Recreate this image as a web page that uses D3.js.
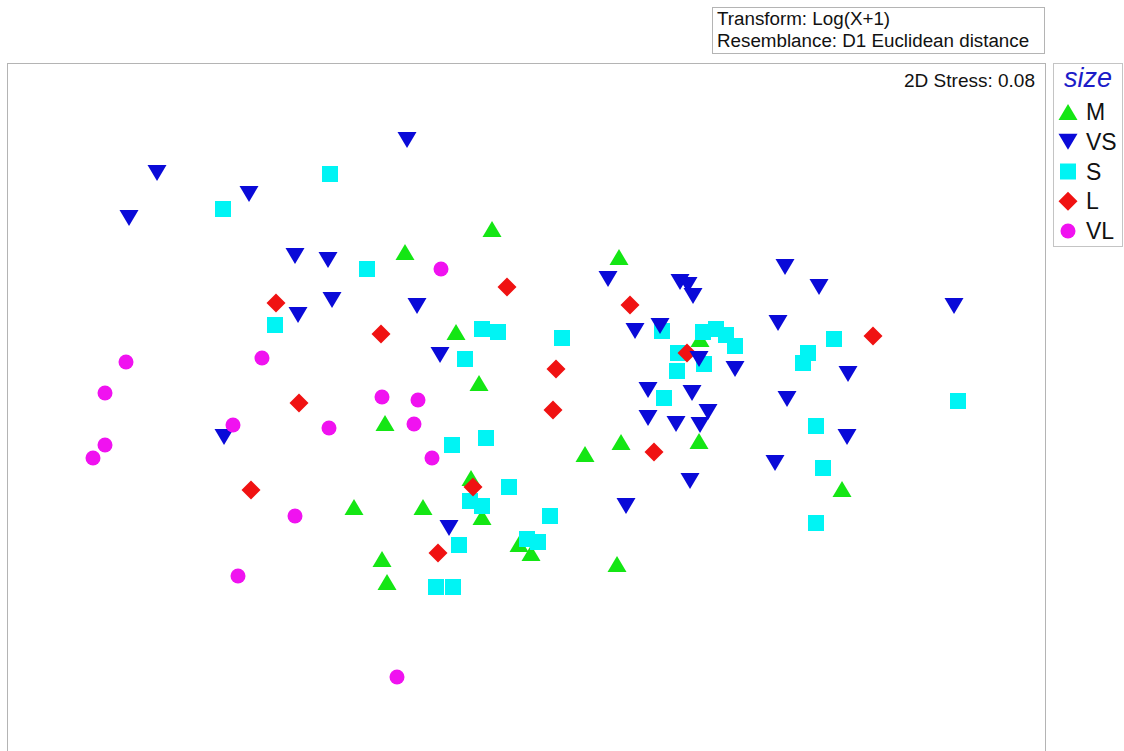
<!DOCTYPE html>
<html>
<head>
<meta charset="utf-8">
<script src="https://cdn.jsdelivr.net/npm/d3@7"></script>
<style>
  html, body { margin: 0; padding: 0; background: #fff; }
  svg { display: block; font-family: "Liberation Sans", Arial, sans-serif; }
</style>
</head>
<body>
<svg id="chart" width="1124" height="751"></svg>
<script>
// nMDS ordination coordinates (MDS1, MDS2) per sample, grouped by size class
const groups = ["M", "VS", "S", "L", "VL"];
const stressLabel = "2D Stress: 0.08";
const infoLines = ["Transform: Log(X+1)", "Resemblance: D1 Euclidean distance"];
const legendTitle = "size";

const mdsM = [
  [-0.17, 0.89], [-0.605, 0.775], [0.465, 0.75], [-0.35, 0.375], [0.87, 0.34],
  [0.475, -0.175], [0.865, -0.17], [-0.235, 0.12], [-0.705, -0.08], [-0.275, -0.355],
  [-0.22, -0.55], [-0.86, -0.50], [-0.515, -0.50], [-0.035, -0.685], [0.025, -0.73],
  [-0.72, -0.76], [-0.695, -0.875], [0.295, -0.235], [1.58, -0.41], [0.455, -0.785]
];
const mdsVS = [
  [-0.595, 1.335], [-1.845, 1.17], [-1.385, 1.065], [-1.985, 0.945], [-1.155, 0.755],
  [-0.99, 0.735], [-0.97, 0.535], [-1.14, 0.46], [-0.545, 0.505], [-0.43, 0.26],
  [-1.51, -0.15], [0.41, 0.64], [0.77, 0.625], [0.81, 0.61], [0.835, 0.555],
  [1.295, 0.70], [1.465, 0.60], [2.14, 0.505], [0.545, 0.38], [0.67, 0.405],
  [1.26, 0.42], [0.865, 0.24], [1.045, 0.19], [1.61, 0.165], [0.61, 0.085],
  [0.83, 0.07], [1.305, 0.04], [0.61, -0.055], [0.75, -0.085], [0.91, -0.025],
  [0.87, -0.09], [1.605, -0.15], [1.245, -0.28], [0.82, -0.37], [0.50, -0.495],
  [-0.385, -0.605]
];
const mdsS = [
  [-0.98, 1.165], [-1.515, 0.99], [-1.255, 0.41], [-0.795, 0.69], [-0.22, 0.39],
  [-0.14, 0.375], [0.18, 0.345], [-0.305, 0.24], [0.68, 0.38], [0.885, 0.375],
  [0.95, 0.39], [1.00, 0.36], [1.045, 0.305], [0.76, 0.27], [0.89, 0.215],
  [0.755, 0.18], [0.69, 0.045], [1.54, 0.34], [1.41, 0.27], [1.385, 0.22],
  [1.45, -0.095], [1.485, -0.305], [1.45, -0.58], [2.16, 0.03], [-0.37, -0.19],
  [-0.20, -0.155], [-0.085, -0.40], [-0.28, -0.47], [-0.22, -0.495], [0.12, -0.545],
  [-0.335, -0.69], [0.005, -0.66], [0.06, -0.675], [-0.45, -0.90], [-0.365, -0.90]
];
const mdsL = [
  [-1.25, 0.52], [-0.095, 0.60], [0.52, 0.51], [-0.725, 0.365], [0.15, 0.19],
  [0.805, 0.27], [1.735, 0.355], [0.64, -0.225], [-1.135, 0.02], [-1.375, -0.415],
  [0.135, -0.015], [-0.265, -0.40], [-0.44, -0.73]
];
const mdsVL = [
  [-0.425, 0.69], [-2.00, 0.225], [-1.32, 0.245], [-2.105, 0.07], [-1.465, -0.09],
  [-0.985, -0.105], [-2.105, -0.19], [-2.165, -0.255], [-1.155, -0.545], [-1.44, -0.845],
  [-0.72, 0.05], [-0.54, 0.035], [-0.56, -0.085], [-0.47, -0.255], [-0.645, -1.35]
];

const groupData = { M: mdsM, VS: mdsVS, S: mdsS, L: mdsL, VL: mdsVL };
const groupColor = { M: "#14e614", VS: "#0a0ad8", S: "#00f4f4", L: "#f01212", VL: "#f012f0" };
const groupShape = { M: "up", VS: "down", S: "square", L: "diamond", VL: "circle" };
const drawOrder = ["M", "S", "L", "VS", "VL"];

// marker outlines centred on the bounding box
function shapePath(kind) {
  switch (kind) {
    case "up":      return "M0,-8L9.5,8L-9.5,8Z";
    case "down":    return "M0,8L9.5,-8L-9.5,-8Z";
    case "square":  return "M-8,-8H8V8H-8Z";
    case "diamond": return "M0,-9.5L9.5,0L0,9.5L-9.5,0Z";
    case "circle":  return "M7.5,0A7.5,7.5 0 1,1 -7.5,0A7.5,7.5 0 1,1 7.5,0Z";
  }
}

const svg = d3.select("#chart");
const plot = { left: 7, top: 63, right: 1045, bottom: 750 };

const x = d3.scaleLinear().domain([-2.595, 2.595]).range([plot.left, plot.right]);
const y = d3.scaleLinear().domain([1.72, -1.715]).range([plot.top, plot.bottom]);

// info box above the plot
svg.append("rect")
  .attr("x", 712.5).attr("y", 7.5).attr("width", 332).attr("height", 46)
  .attr("fill", "#fff").attr("stroke", "#b4b4b4").attr("stroke-width", 1);
svg.selectAll("text.info").data(infoLines).join("text")
  .attr("class", "info")
  .attr("x", 717).attr("y", (d, i) => 25 + i * 22)
  .attr("font-size", 18.8).attr("fill", "#111")
  .text(d => d);

// ordination frame
svg.append("rect")
  .attr("x", plot.left + 0.5).attr("y", plot.top + 0.5)
  .attr("width", plot.right - plot.left).attr("height", plot.bottom - plot.top + 5)
  .attr("fill", "#fff").attr("stroke", "#b4b4b4").attr("stroke-width", 1);

svg.append("text")
  .attr("x", 1035).attr("y", 87)
  .attr("text-anchor", "end").attr("font-size", 19).attr("fill", "#111")
  .text(stressLabel);

// sample points
const marks = svg.append("g");
drawOrder.forEach(g => {
  marks.selectAll(null).data(groupData[g]).join("path")
    .attr("d", shapePath(groupShape[g]))
    .attr("transform", d => `translate(${x(d[0])},${y(d[1])})`)
    .attr("fill", groupColor[g]);
});

// legend
const legend = svg.append("g");
legend.append("rect")
  .attr("x", 1053.5).attr("y", 63.5).attr("width", 69).attr("height", 183)
  .attr("fill", "#fff").attr("stroke", "#c4c4c4").attr("stroke-width", 1);
legend.append("text")
  .attr("x", 1088).attr("y", 87).attr("text-anchor", "middle")
  .attr("font-size", 27).attr("font-style", "italic").attr("fill", "#1c1cc8")
  .text(legendTitle);
const legendY = d3.scalePoint().domain(groups).range([112, 231]);
const item = legend.selectAll("g.item").data(groups).join("g")
  .attr("class", "item")
  .attr("transform", d => `translate(0,${legendY(d)})`);
item.append("path")
  .attr("d", d => shapePath(groupShape[d]))
  .attr("transform", "translate(1068,0)")
  .attr("fill", d => groupColor[d]);
item.append("text")
  .attr("x", 1086).attr("y", 8)
  .attr("font-size", 23).attr("fill", "#111")
  .text(d => d);
</script>
</body>
</html>
